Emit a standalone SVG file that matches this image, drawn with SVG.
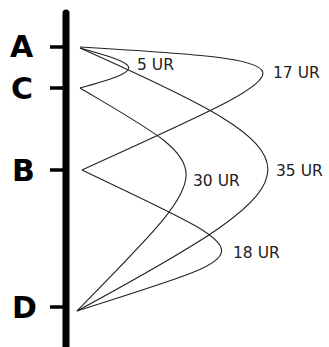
<svg xmlns="http://www.w3.org/2000/svg" width="329" height="347" viewBox="0 0 329 347">
<style>
.lbl{font-family:"DejaVu Sans",Verdana,sans-serif;font-weight:bold;font-size:30px;fill:#000}
.ur{font-family:"DejaVu Sans",Verdana,sans-serif;font-size:15.5px;fill:#222}
.e{fill:none;stroke:#222;stroke-width:1.1}
.tick{stroke:#000;stroke-width:3.5}
</style>
<rect width="329" height="347" fill="#fff"/>
<line x1="66" y1="13" x2="66" y2="352" stroke="#000" stroke-width="7" stroke-linecap="round"/>
<g id="A"><line class="tick" x1="50" y1="47" x2="64" y2="47"/><text class="lbl" x="10" y="57">A</text></g>
<g id="C"><line class="tick" x1="50" y1="88" x2="64" y2="88"/><text class="lbl" x="11" y="99">C</text></g>
<g id="B"><line class="tick" x1="50" y1="170" x2="64" y2="170"/><text class="lbl" x="12" y="181">B</text></g>
<g id="D"><line class="tick" x1="50" y1="307" x2="64" y2="307"/><text class="lbl" x="12" y="318">D</text></g>
<g id="connectors">
<path class="e" d="M80,48 C145,66 145,70 80,88"/>
<path class="e" d="M80,47 C333,62 314,64 82,170"/>
<path class="e" d="M80,48 C331,160 331,173 77,311"/>
<path class="e" d="M80,88 C222,172 222,162 77,311"/>
<path class="e" d="M82,170 C269,260 269,249 77,311"/>
</g>
<g id="labels">
<text class="ur" x="137" y="70">5 UR</text>
<text class="ur" x="273" y="78">17 UR</text>
<text class="ur" x="193" y="186">30 UR</text>
<text class="ur" x="276" y="176">35 UR</text>
<text class="ur" x="233" y="258">18 UR</text>
</g>
</svg>
